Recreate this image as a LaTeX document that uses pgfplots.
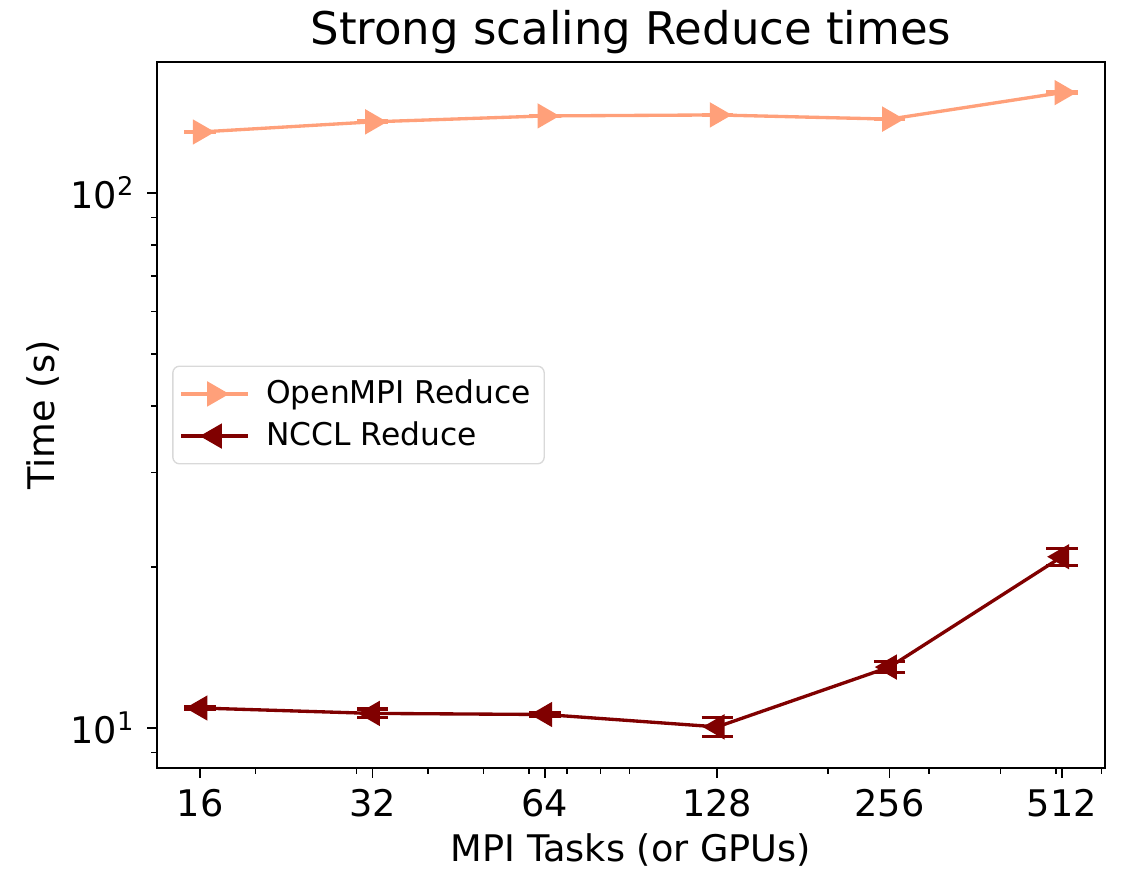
\documentclass[border=0pt]{standalone}
\usepackage{fontspec}
\setmainfont{DejaVu Sans}
\usepackage{pgfplots}
\pgfplotsset{compat=1.18}
\definecolor{ompi}{HTML}{FFA07A}
\definecolor{nccl}{HTML}{800000}

\begin{document}
\begin{tikzpicture}
% keep the reference's outer proportions (1 px = 0.3pt)
\useasboundingbox (-47.1pt,-30.3pt) rectangle (292.8pt,230.4pt);
\begin{axis}[
  scale only axis,
  width=284.4pt, height=211.8pt,
  xmode=log, ymode=log,
  xmin=13.45, xmax=609,
  ymin=8.42, ymax=175.7,
  xtick={16,32,64,128,256,512},
  xticklabels={16,32,64,128,256,512},
  minor xtick={20,30,40,50,60,70,80,90,200,300,400,500,600},
  ytick={10,100},
  yticklabels={10\textsuperscript{1},10\textsuperscript{2}},
  minor ytick={9,20,30,40,50,60,70,80,90},
  tick align=outside,
  xtick pos=left, ytick pos=left,
  major tick length=3pt, minor tick length=1.8pt,
  every tick/.style={black, line width=0.45pt},
  axis line style={line width=0.5pt},
  tick label style={font=\fontsize{11}{13}\selectfont},
  label style={font=\fontsize{11}{13}\selectfont},
  title style={font=\fontsize{13.5}{16}\selectfont, yshift=-7pt},
  title={Strong scaling Reduce times},
  xlabel={MPI Tasks (or GPUs)},
  ylabel={Time (s)},
  xlabel style={yshift=2pt},
  ylabel style={yshift=-3.5pt},
  legend style={at={(0.016,0.5)}, anchor=west, font=\fontsize{9.4}{11}\selectfont,
    draw=black!15, rounded corners=2pt, inner xsep=2pt, inner ysep=2pt,
    row sep=0pt},
  legend cell align=left,
  legend image code/.code={%
    \draw[mark repeat=2,mark phase=2] plot coordinates {(0pt,0pt)(10pt,0pt)(20pt,0pt)};},
  error bars/y dir=both, error bars/y explicit,
  error bars/error mark options={rotate=90, mark size=4.7pt, line width=1pt},
]
\addplot[color=ompi, line width=1pt, mark=triangle*, mark size=3.4pt,
  mark options={rotate=-90, solid},
  error bars/error bar style={line width=0.9pt, color=ompi}]
  coordinates {
  (16,130.0) +- (0,0.4)
  (32,135.8) +- (0,0.4)
  (64,139.3) +- (0,0.4)
  (128,139.9) +- (0,0.4)
  (256,137.4) +- (0,0.4)
  (512,154.0) +- (0,0.5)
};
\addlegendentry{\hspace{3pt}OpenMPI Reduce}
\addplot[color=nccl, line width=1pt, mark=triangle*, mark size=3.4pt,
  mark options={rotate=90, solid},
  error bars/error bar style={line width=0.9pt, color=nccl}]
  coordinates {
  (16,10.9) +- (0,0.08)
  (32,10.65) +- (0,0.2)
  (64,10.6) +- (0,0.08)
  (128,10.05) +- (0,0.4)
  (256,13.0) +- (0,0.3)
  (512,20.9) +- (0,0.75)
};
\addlegendentry{\hspace{3pt}NCCL Reduce}
\end{axis}
\end{tikzpicture}
\end{document}
